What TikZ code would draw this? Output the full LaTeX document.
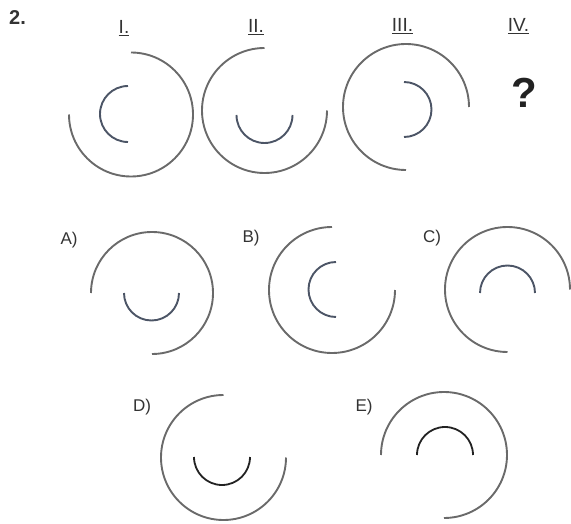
\documentclass[tikz,border=0pt]{standalone}
\usepackage{xcolor}
\usepackage{fontspec}
\setmainfont{Liberation Sans}
\usepackage{tikz}

\definecolor{rimgray}{HTML}{6A6A6A}
\definecolor{slate}{HTML}{4C5566}
\definecolor{inkdark}{HTML}{222222}
\definecolor{txtgray}{HTML}{333333}

\begin{document}
\begin{tikzpicture}[x=1pt,y=1pt,
  rim/.style={draw=rimgray,line width=1.9pt},
  core/.style={draw=slate,line width=1.9pt},
  coredark/.style={draw=inkdark,line width=1.8pt},
  tag/.style={anchor=base,inner sep=0pt,text=txtgray,font=\fontsize{19}{21}\selectfont},
  opt/.style={anchor=base,inner sep=0pt,text=txtgray,font=\fontsize{17}{19}\selectfont}]
\useasboundingbox (0,0) rectangle (571,-524);

% number and column heads
\node[anchor=base,inner sep=0pt,font=\fontsize{20}{22}\selectfont\bfseries,text=txtgray] (num) at (17.5,-25) {2.};
\node[tag] (h1) at (124,-34) {\underline{I.}};
\node[tag] (h2) at (256,-33) {\underline{II.}};
\node[tag] (h3) at (402.5,-32) {\underline{III.}};
\node[tag] (h4) at (518.5,-32) {\underline{IV.}};
\node[anchor=base,inner sep=0pt,font=\fontsize{42}{44}\selectfont\bfseries,text=inkdark] (qm) at (524,-108) {?};

% sequence figures
\coordinate (c1) at (131,-114.5);
\draw[rim] (c1) ++(90:62pt) arc[start angle=90,end angle=-180,radius=62pt];
\draw[core] (128,-114) ++(90:28pt) arc[start angle=90,end angle=270,radius=28pt];

\coordinate (c2) at (264.5,-110.5);
\draw[rim] (c2) ++(90:62.5pt) arc[start angle=90,end angle=360,radius=62.5pt];
\draw[core] (264.5,-115) ++(180:28pt) arc[start angle=180,end angle=360,radius=28pt];

\coordinate (c3) at (406,-107);
\draw[rim] (c3) ++(0:63pt) arc[start angle=0,end angle=270,radius=63pt];
\draw[core] (404,-109.5) ++(90:27.5pt) arc[start angle=90,end angle=-90,radius=27.5pt];

% answer options
\node[opt] (la) at (69,-244) {A)};
\node[opt] (lb) at (251,-243) {B)};
\node[opt] (lc) at (432,-243) {C)};
\node[opt] (ld) at (142,-411) {D)};
\node[opt] (le) at (364,-411) {E)};

\coordinate (ca) at (152,-293);
\draw[rim] (ca) ++(180:61pt) arc[start angle=180,end angle=-90,radius=61pt];
\draw[core] (151.5,-293) ++(180:27.5pt) arc[start angle=180,end angle=360,radius=27.5pt];

\coordinate (cb) at (332,-290);
\draw[rim] (cb) ++(90:63pt) arc[start angle=90,end angle=360,radius=63pt];
\draw[core] (336,-289.5) ++(90:27.5pt) arc[start angle=90,end angle=270,radius=27.5pt];

\coordinate (cc) at (507.5,-289.5);
\draw[rim] (cc) ++(0:62.5pt) arc[start angle=0,end angle=270,radius=62.5pt];
\draw[core] (507.5,-293) ++(0:27.5pt) arc[start angle=0,end angle=180,radius=27.5pt];

\coordinate (cd) at (223.5,-457.5);
\draw[rim] (cd) ++(90:62.5pt) arc[start angle=90,end angle=360,radius=62.5pt];
\draw[coredark] (222,-457) ++(180:28pt) arc[start angle=180,end angle=360,radius=28pt];

\coordinate (ce) at (444,-455);
\draw[rim] (ce) ++(180:63pt) arc[start angle=180,end angle=-90,radius=63pt];
\draw[coredark] (445,-455) ++(0:28pt) arc[start angle=0,end angle=180,radius=28pt];
\end{tikzpicture}
\end{document}
